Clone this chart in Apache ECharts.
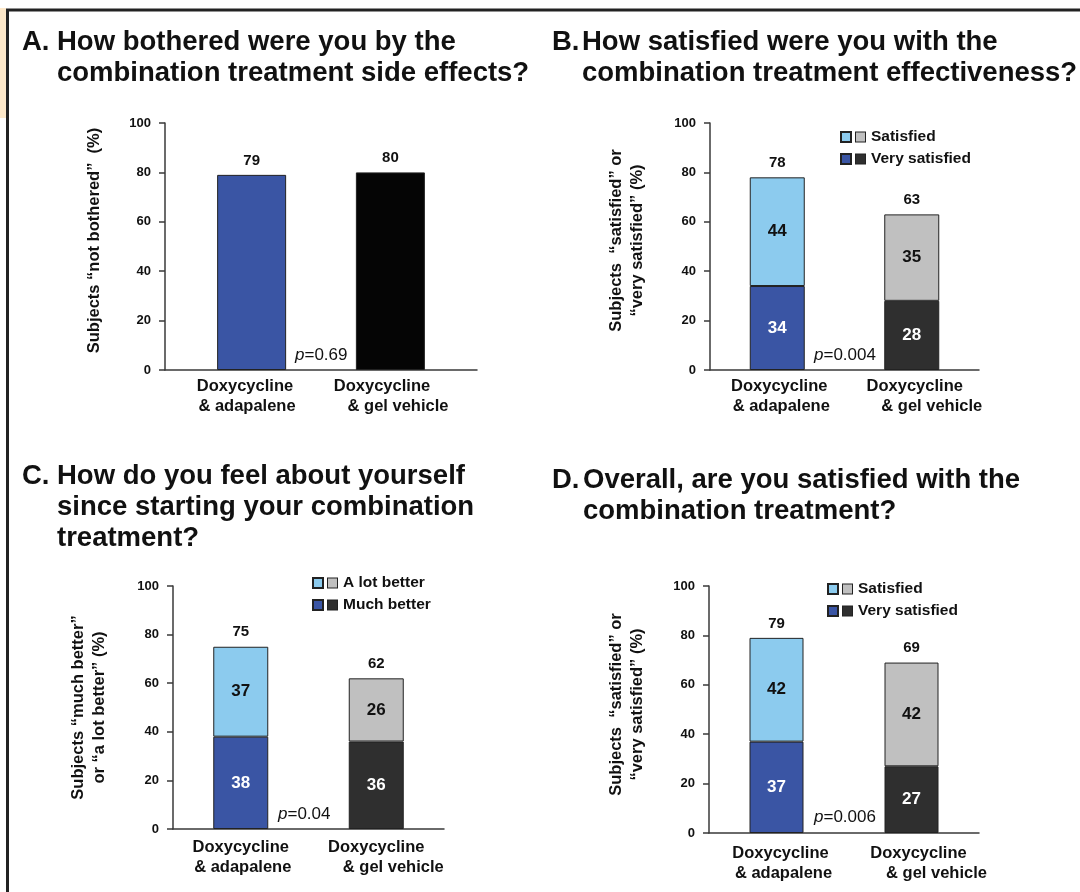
<!DOCTYPE html>
<html>
<head>
<meta charset="utf-8">
<script src="https://cdn.jsdelivr.net/npm/echarts@6/dist/echarts.min.js"></script>
<style>html,body{margin:0;padding:0;background:#fff}#c{width:1080px;height:892px}</style>
</head>
<body>
<div id="c"></div>
<script>
// ---------- data ----------
const categories = ['Doxycycline\n& adapalene', 'Doxycycline\n& gel vehicle'];
const yTicks = [0, 20, 40, 60, 80, 100];

// A. not bothered (%)
const notBotheredA = [79, 80];
const pA = '0.69';
// B. effectiveness satisfaction
const verySatisfiedB = [34, 28];
const satisfiedB = [44, 35];
const totalB = [78, 63];
const pB = '0.004';
// C. feel about yourself
const muchBetterC = [38, 36];
const aLotBetterC = [37, 26];
const totalC = [75, 62];
const pC = '0.04';
// D. overall satisfaction
const verySatisfiedD = [37, 27];
const satisfiedD = [42, 42];
const totalD = [79, 69];
const pD = '0.006';

const titles = {
  A: ['A.', 'How bothered were you by the\ncombination treatment side effects?'],
  B: ['B.', 'How satisfied were you with the\ncombination treatment effectiveness?'],
  C: ['C.', 'How do you feel about yourself\nsince starting your combination\ntreatment?'],
  D: ['D.', 'Overall, are you satisfied with the\ncombination treatment?']
};
const yNames = {
  A: 'Subjects \u201cnot bothered\u201d  (%)',
  B: 'Subjects  \u201csatisfied\u201d or\n\u201cvery satisfied\u201d (%)',
  C: 'Subjects \u201cmuch better\u201d\nor \u201ca lot better\u201d (%)',
  D: 'Subjects  \u201csatisfied\u201d or\n\u201cvery satisfied\u201d (%)'
};

// ---------- styling ----------
const FONT = '"Liberation Sans", Arial, Helvetica, sans-serif';
const INK = '#111';
const AXIS = '#3a3a3a';
const BLUE = '#3a55a4', LBLUE = '#8ccbee', DGRAY = '#2f2f2f', LGRAY = '#c0c0c0', BLACK = '#050505';
const topColors = [LBLUE, LGRAY], botColors = [BLUE, DGRAY];

const grids = [
  {left: 165, right: 603, top: 123, bottom: 522},
  {left: 710, right: 101, top: 123, bottom: 522},
  {left: 173, right: 636, top: 586, bottom: 63},
  {left: 709, right: 101, top: 586, bottom: 59}
];

function catAxis(i, shifts, margin) {
  const rich = {};
  shifts.forEach((arr, ci) => arr.forEach((s, li) => {
    rich['s' + ci + li] = {
      fontFamily: FONT, fontWeight: 'bold', fontSize: 16.5, color: INK, lineHeight: 20,
      padding: s >= 0 ? [0, 0, 0, 2 * s] : [0, -2 * s, 0, 0]
    };
  }));
  return {
    type: 'category', gridIndex: i, data: categories,
    axisLine: {lineStyle: {color: AXIS, width: 1.5}},
    axisTick: {show: false},
    axisLabel: {
      interval: 0, margin: margin,
      formatter: (v, idx) => v.split('\n').map((l, k) => '{s' + idx + k + '|' + l + '}').join('\n'),
      rich: rich
    }
  };
}
function valAxis(i, name, gap, shiftUp) {
  return {
    type: 'value', gridIndex: i, min: yTicks[0], max: yTicks[yTicks.length - 1], interval: yTicks[1] - yTicks[0],
    axisLine: {show: true, lineStyle: {color: AXIS, width: 1.5}},
    axisTick: {show: true, inside: false, length: 6, lineStyle: {color: AXIS, width: 1.5}},
    splitLine: {show: false},
    axisLabel: {fontFamily: FONT, fontWeight: 'bold', fontSize: 13, color: INK, margin: 14},
    name: name, nameLocation: 'middle', nameRotate: 90, nameGap: gap,
    nameTextStyle: {fontFamily: FONT, fontWeight: 'bold', fontSize: 16.5, color: INK, lineHeight: 21,
      padding: [0, 0, 0, 2 * shiftUp]}
  };
}

const barBorder = {borderColor: '#222', borderWidth: 1};
function segData(vals, colors, labelColor) {
  return vals.map((v, i) => ({value: v, itemStyle: Object.assign({color: colors[i]}, barBorder),
    label: {color: labelColor}}));
}
function stackSeries(idx, stackId, bottomName, bottomVals, topName, topVals, totals, barW) {
  const lbl = {show: true, position: 'inside', fontFamily: FONT, fontWeight: 'bold', fontSize: 17};
  return [
    {type: 'bar', name: bottomName, xAxisIndex: idx, yAxisIndex: idx, stack: stackId, barWidth: barW,
      color: botColors[0], itemStyle: barBorder, label: lbl, data: segData(bottomVals, botColors, '#fff')},
    {type: 'bar', name: topName, xAxisIndex: idx, yAxisIndex: idx, stack: stackId, barWidth: barW,
      color: topColors[0], itemStyle: barBorder, label: lbl, data: segData(topVals, topColors, INK)},
    {type: 'bar', name: 'total' + stackId, xAxisIndex: idx, yAxisIndex: idx, stack: stackId, barWidth: barW,
      itemStyle: {color: 'transparent', borderWidth: 0},
      label: {show: true, position: 'top', distance: 7, fontFamily: FONT, fontWeight: 'bold', fontSize: 15, color: INK,
        formatter: p => totals[p.dataIndex]},
      data: totals.map(() => 0)}
  ];
}
function legend(left, top, names) {
  return {
    left: left, top: top, orient: 'vertical', selectedMode: false,
    itemWidth: 10, itemHeight: 10, itemGap: 4, icon: 'rect',
    data: names,
    formatter: n => '{' + (n === names[0] ? 'g0' : 'g1') + '|}{t|' + n + '}',
    textStyle: {
      lineHeight: 18,
      rich: {
        g0: {width: 9, height: 9, backgroundColor: LGRAY, borderColor: '#222', borderWidth: 1},
        g1: {width: 9, height: 9, backgroundColor: DGRAY, borderColor: '#222', borderWidth: 1},
        t: {fontFamily: FONT, fontWeight: 'bold', fontSize: 15.5, color: INK, padding: [0, 0, 0, 6]}
      }
    }
  };
}

// ---------- graphics (frame, titles, p-values) ----------
const graphic = [
  {type: 'rect', shape: {x: 0, y: 8, width: 6, height: 110}, style: {fill: '#fde8c9'}, silent: true},
  {type: 'polyline', shape: {points: [[7.5, 892], [7.5, 10], [1080, 10]]}, style: {stroke: '#222', lineWidth: 3, fill: null}, silent: true}
];
function addTitle(key, xL, xT, top) {
  const tf = 'bold 27.5px ' + FONT;
  graphic.push({type: 'text', left: xL, top: top, style: {text: titles[key][0], font: tf, fill: INK, lineHeight: 31}});
  graphic.push({type: 'text', left: xT, top: top, style: {text: titles[key][1], font: tf, fill: INK, lineHeight: 31}});
}
addTitle('A', 22, 57, 27);
addTitle('B', 552, 582, 27);
addTitle('C', 22, 57, 461);
addTitle('D', 552, 583, 465);
function addP(p, x, y) {
  graphic.push({type: 'text', x: x, y: y, style: {
    text: '{i|p}{r|=' + p + '}', verticalAlign: 'middle', textVerticalAlign: 'middle',
    rich: {i: {fontFamily: FONT, fontStyle: 'italic', fontSize: 17, fill: INK, color: INK},
           r: {fontFamily: FONT, fontSize: 17, fill: INK, color: INK}}
  }});
}
addP(pA, 295, 355);
addP(pB, 814, 355);
addP(pC, 278, 814);
addP(pD, 814, 817);

// ---------- series ----------
const series = [
  // Panel A: two single bars (order arranged so the bars sit slightly inward)
  {type: 'bar', name: 'gel vehicle', xAxisIndex: 0, yAxisIndex: 0, barWidth: 69, barGap: '-75%',
    itemStyle: {color: BLACK, borderColor: '#222', borderWidth: 1},
    label: {show: true, position: 'top', distance: 7, fontFamily: FONT, fontWeight: 'bold', fontSize: 15, color: INK},
    data: notBotheredA.map((v, i) => i === 1 ? v : null)},
  {type: 'bar', name: 'adapalene', xAxisIndex: 0, yAxisIndex: 0, barWidth: 69,
    itemStyle: {color: BLUE, borderColor: '#222', borderWidth: 1},
    label: {show: true, position: 'top', distance: 7, fontFamily: FONT, fontWeight: 'bold', fontSize: 15, color: INK},
    data: notBotheredA.map((v, i) => i === 0 ? v : null)}
].concat(
  stackSeries(1, 'B', 'Very satisfied', verySatisfiedB, 'Satisfied', satisfiedB, totalB, 55),
  stackSeries(2, 'C', 'Much better', muchBetterC, 'A lot better', aLotBetterC, totalC, 55),
  stackSeries(3, 'D', 'Very satisfied', verySatisfiedD, 'Satisfied', satisfiedD, totalD, 54)
);

const chart = echarts.init(document.getElementById('c'), null, {renderer: 'canvas'});
chart.setOption({
  backgroundColor: '#fff',
  animation: false,
  grid: grids,
  xAxis: [
    catAxis(0, [[2, 4], [-17, -1]], 6),
    catAxis(1, [[2, 4], [3, 20]], 6),
    catAxis(2, [[0, 2], [0, 17]], 8),
    catAxis(3, [[4, 7], [7, 25]], 10)
  ],
  yAxis: [
    valAxis(0, yNames.A, 60, 6),
    valAxis(1, yNames.B, 62, 6),
    valAxis(2, yNames.C, 63, 0),
    valAxis(3, yNames.D, 61, 5)
  ],
  legend: [
    legend(835, 123, ['Satisfied', 'Very satisfied']),
    legend(307, 569, ['A lot better', 'Much better']),
    legend(822, 575, ['Satisfied', 'Very satisfied'])
  ],
  graphic: graphic,
  series: series
});
</script>
</body>
</html>
